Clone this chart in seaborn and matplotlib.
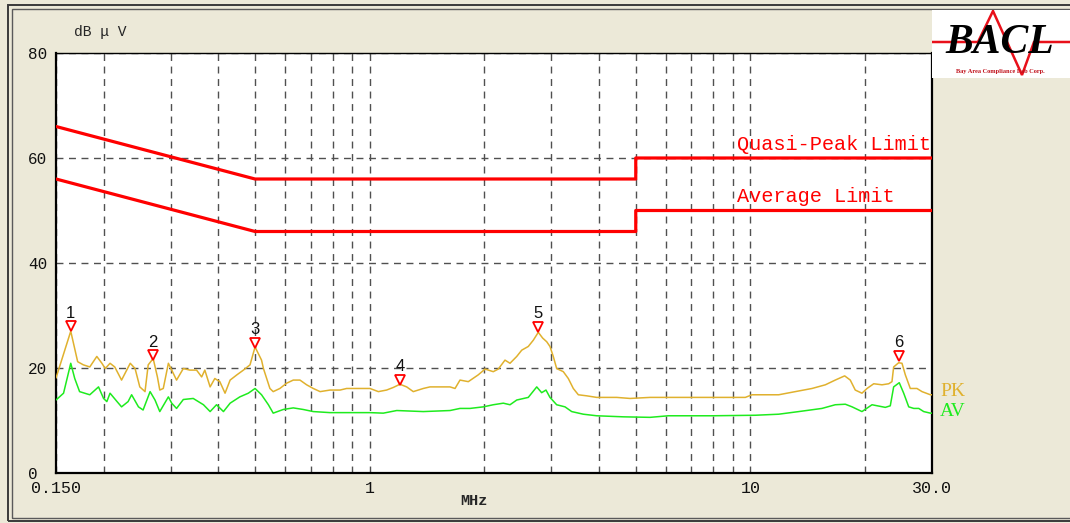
import numpy as np
import pandas as pd
import matplotlib
matplotlib.use("Agg")
import matplotlib.pyplot as plt
import matplotlib.transforms as mtransforms
from matplotlib.patches import Rectangle
from matplotlib.ticker import FixedLocator, NullFormatter
import seaborn as sns

# ---------------- data ----------------
pk_freq = [0.150, 0.164, 0.171, 0.177, 0.184, 0.192, 0.198, 0.202, 0.208, 0.214,
           0.223, 0.235, 0.242, 0.249, 0.257, 0.262, 0.270, 0.277, 0.281, 0.287,
           0.296, 0.302, 0.311, 0.324, 0.337, 0.351, 0.362, 0.369, 0.381, 0.392,
           0.404, 0.417, 0.430, 0.448, 0.466, 0.485, 0.500, 0.520, 0.526, 0.547,
           0.558, 0.581, 0.605, 0.630, 0.656, 0.683, 0.711, 0.741, 0.787, 0.836,
           0.870, 0.906, 0.962, 1.002, 1.054, 1.108, 1.154, 1.201, 1.251, 1.302,
           1.383, 1.440, 1.626, 1.676, 1.727, 1.816, 1.929, 2.010, 2.112, 2.177,
           2.267, 2.337, 2.434, 2.509, 2.610, 2.691, 2.773, 2.847, 2.918, 2.976,
           3.036, 3.099, 3.226, 3.325, 3.427, 3.533, 3.716, 3.948, 4.457, 4.829,
           5.451, 6.089, 7.929, 9.699, 10.10, 11.87, 13.12, 14.52, 15.74, 16.71,
           17.69, 18.30, 18.86, 19.64, 20.25, 21.09, 22.17, 23.09, 23.55, 23.79,
           24.52, 25.02, 25.53, 26.31, 27.39, 28.24, 29.71, 30.0]
pk_level = [18.1, 27.0, 21.2, 20.6, 20.2, 22.2, 20.9, 19.9, 20.9, 20.2,
            17.7, 20.9, 19.9, 16.4, 15.5, 20.6, 21.8, 18.3, 15.8, 16.1,
            20.9, 19.6, 17.7, 19.9, 19.6, 19.6, 18.3, 19.6, 16.4, 18.0,
            17.4, 15.2, 17.7, 18.7, 19.6, 20.6, 24.0, 21.5, 19.9, 16.1,
            15.5, 16.1, 17.1, 17.7, 17.7, 16.8, 16.1, 15.5, 15.8, 15.8,
            16.1, 16.1, 16.1, 16.1, 15.5, 15.8, 16.3, 16.9, 16.4, 15.5,
            16.1, 16.4, 16.4, 16.1, 17.7, 17.4, 18.7, 19.8, 19.3, 19.8,
            21.5, 20.9, 22.2, 23.4, 24.1, 25.3, 26.8, 25.7, 25.0, 24.1,
            22.2, 19.9, 19.3, 18.0, 16.1, 14.9, 14.7, 14.4, 14.4, 14.2,
            14.4, 14.4, 14.4, 14.4, 14.9, 14.9, 15.5, 16.1, 16.8, 17.7,
            18.5, 17.7, 15.8, 15.2, 16.1, 17.0, 16.8, 17.0, 17.4, 20.2,
            21.0, 20.9, 18.7, 16.1, 16.1, 15.5, 14.9, 14.9]

av_freq = [0.150, 0.157, 0.164, 0.168, 0.173, 0.184, 0.194, 0.200, 0.204, 0.208,
           0.217, 0.223, 0.232, 0.237, 0.247, 0.254, 0.265, 0.273, 0.281, 0.296,
           0.302, 0.311, 0.324, 0.344, 0.366, 0.381, 0.396, 0.413, 0.430, 0.456,
           0.480, 0.500, 0.520, 0.542, 0.558, 0.593, 0.630, 0.669, 0.711, 0.787,
           1.002, 1.086, 1.178, 1.383, 1.626, 1.727, 1.835, 1.989, 2.112, 2.244,
           2.337, 2.434, 2.610, 2.747, 2.830, 2.905, 2.976, 3.099, 3.259, 3.394,
           3.640, 3.948, 4.637, 5.451, 6.089, 7.929, 10.30, 11.87, 13.40, 15.42,
           16.71, 17.76, 18.50, 19.64, 20.87, 22.62, 23.31, 23.79, 24.61, 25.28,
           26.06, 26.87, 27.69, 28.53, 29.71, 30.0]
av_level = [13.9, 15.2, 20.9, 18.0, 15.5, 14.9, 16.4, 14.2, 13.6, 15.2,
            13.6, 12.6, 13.6, 14.9, 12.6, 12.0, 15.5, 13.9, 11.7, 14.5,
            13.3, 12.3, 14.0, 14.2, 13.0, 11.7, 13.0, 11.7, 13.3, 14.5,
            15.2, 16.1, 14.9, 13.0, 11.4, 12.1, 12.4, 12.1, 11.7, 11.5,
            11.5, 11.4, 11.9, 11.7, 11.9, 12.3, 12.3, 12.6, 13.0, 13.3,
            13.0, 13.9, 14.4, 16.4, 15.3, 15.8, 14.4, 13.0, 12.6, 11.7,
            11.2, 10.9, 10.7, 10.6, 10.9, 10.9, 11.0, 11.2, 11.7, 12.3,
            13.0, 13.1, 12.6, 11.7, 13.0, 12.5, 12.8, 16.4, 17.2, 15.2,
            12.6, 12.3, 12.3, 11.7, 11.4, 11.4]

qp_limit_freq = [0.15, 0.5, 5.0, 5.0, 30.0]
qp_limit_level = [66, 56, 56, 60, 60]
av_limit_freq = [0.15, 0.5, 5.0, 5.0, 30.0]
av_limit_level = [56, 46, 46, 50, 50]

marker_ids = ["1", "2", "3", "4", "5", "6"]
marker_freq = [0.164, 0.270, 0.500, 1.20, 2.77, 24.5]
marker_level = [27.0, 21.5, 23.9, 16.8, 26.9, 21.4]

y_ticks = [0, 20, 40, 60, 80]
y_tick_labels = ["0", "20", "40", "60", "80"]
x_tick_values = [0.15, 1, 10, 30]
x_tick_labels = ["0.150", "1", "10", "30.0"]
x_grid_values = [0.2, 0.3, 0.4, 0.5, 0.6, 0.7, 0.8, 0.9,
                 2, 3, 4, 5, 6, 7, 8, 9, 20]

# ---------------- style ----------------
W, H = 1070, 523
BG = '#ECE9D8'
PK_COLOR = '#E0B12E'
AV_COLOR = '#1EEB1E'
LIM_COLOR = '#FF0000'

sns.set_style("white")
plt.rcParams['font.family'] = ['DejaVu Sans']

fig = plt.figure(figsize=(W / 100, H / 100), dpi=100, facecolor=BG)


def fx(px):
    return px / W


def fy(py):
    return 1 - py / H


# window border (double line)
fig.add_artist(Rectangle((fx(8), fy(521)), fx(1200 - 8), fy(5) - fy(521),
                         transform=fig.transFigure, fill=False,
                         edgecolor='#3a3a3a', lw=1.4, zorder=0))
fig.add_artist(Rectangle((fx(12), fy(518)), fx(1200 - 12), fy(9) - fy(518),
                         transform=fig.transFigure, fill=False,
                         edgecolor='#5a5a5a', lw=1.0, zorder=0))

ax = fig.add_axes([fx(56), fy(473), fx(932 - 56), fy(53) - fy(473)])
ax.set_facecolor('white')
ax.set_xscale('log')

df_pk = pd.DataFrame({'freq': pk_freq, 'level': pk_level})
df_av = pd.DataFrame({'freq': av_freq, 'level': av_level})
df_qp = pd.DataFrame({'freq': qp_limit_freq, 'level': qp_limit_level})
df_avl = pd.DataFrame({'freq': av_limit_freq, 'level': av_limit_level})

sns.lineplot(data=df_qp, x='freq', y='level', ax=ax, color=LIM_COLOR, lw=2.3,
             estimator=None, sort=False, zorder=4)
sns.lineplot(data=df_avl, x='freq', y='level', ax=ax, color=LIM_COLOR, lw=2.3,
             estimator=None, sort=False, zorder=4)
sns.lineplot(data=df_pk, x='freq', y='level', ax=ax, color=PK_COLOR, lw=1.1,
             estimator=None, sort=False, zorder=3)
sns.lineplot(data=df_av, x='freq', y='level', ax=ax, color=AV_COLOR, lw=1.1,
             estimator=None, sort=False, zorder=3)

ax.set_xlim(0.15, 30)
ax.set_ylim(0, 80)

# ticks / grid
ax.xaxis.set_major_locator(FixedLocator(x_tick_values))
ax.xaxis.set_minor_locator(FixedLocator(x_grid_values))
ax.xaxis.set_minor_formatter(NullFormatter())
ax.set_xticklabels(x_tick_labels)
ax.set_yticks(y_ticks)
ax.set_yticklabels(y_tick_labels)
ax.grid(True, which='both', axis='x', color='#505050', lw=1.0,
        linestyle=(0, (5, 4)))
ax.grid(True, which='major', axis='y', color='#505050', lw=1.0,
        linestyle=(0, (5, 4)))
ax.set_axisbelow(True)
ax.tick_params(axis='both', which='both', length=0)
ax.tick_params(axis='y', pad=20.2)
ax.tick_params(axis='x', pad=6)
for lab in ax.get_yticklabels():
    lab.set_horizontalalignment('left')
    lab.set_family('Liberation Mono')
    lab.set_fontsize(11.5)
    lab.set_color('#111111')
for lab in ax.get_xticklabels():
    lab.set_family('Liberation Mono')
    lab.set_fontsize(12)
    lab.set_color('#111111')

for side in ['left', 'bottom', 'top', 'right']:
    ax.spines[side].set_visible(True)
    ax.spines[side].set_color('black')
ax.spines['left'].set_linewidth(1.6)
ax.spines['bottom'].set_linewidth(1.6)
ax.spines['top'].set_linewidth(1.0)
ax.spines['right'].set_linewidth(1.6)

ax.set_xlabel('MHz', fontsize=11, family='Liberation Mono', fontweight='bold')
ax.xaxis.set_label_coords((474 - 56) / 876, -(501 - 473) / 420)
ax.xaxis.label.set_verticalalignment('center')
ax.set_ylabel('')
ax.text((100 - 56) / 876, (473 - 32) / 420, 'dB μ V', transform=ax.transAxes,
        ha='center', va='center', fontsize=10.5, family='Liberation Mono',
        clip_on=False)

# limit texts
ax.text(9.2, 62.6, 'Quasi-Peak Limit', color=LIM_COLOR, fontsize=14.6,
        family='Liberation Mono', ha='left', va='center', clip_on=True)
ax.text(9.2, 52.6, 'Average Limit', color=LIM_COLOR, fontsize=14.6,
        family='Liberation Mono', ha='left', va='center', clip_on=True)

# markers
marker_tr = mtransforms.offset_copy(ax.transData, fig=fig, x=0, y=3.6,
                                    units='points')
ax.plot(marker_freq, marker_level, linestyle='none', marker='v', ms=7.2,
        mfc='white', mec='red', mew=1.3, transform=marker_tr, zorder=6,
        clip_on=False)
for lab, f, lv in zip(marker_ids, marker_freq, marker_level):
    ax.annotate(lab, (f, lv), xytext=(0, 13), textcoords='offset points',
                ha='center', va='center', fontsize=12,
                family='Liberation Sans', color='#111111', zorder=7)

# PK / AV legend
ax.text(1 + (940 - 932) / 876, (473 - 392) / 420, 'PK', transform=ax.transAxes,
        color=PK_COLOR, fontsize=14, family='Liberation Serif', ha='left',
        va='center', clip_on=False)
ax.text(1 + (940 - 932) / 876, (473 - 411) / 420, 'AV', transform=ax.transAxes,
        color=AV_COLOR, fontsize=14, family='Liberation Serif', ha='left',
        va='center', clip_on=False)

# logo
lax = fig.add_axes([fx(932), fy(78), fx(1070 - 932), fy(10) - fy(78)])
lax.set_facecolor('white')
lax.set_xlim(0, 138)
lax.set_ylim(68, 0)
lax.set_xticks([])
lax.set_yticks([])
for s in lax.spines.values():
    s.set_visible(False)
lax.plot([0, 46, 61, 90, 102, 138], [32, 32, 1, 65, 32, 32], color='#E8101A',
         lw=1.8, solid_joinstyle='miter')
lax.text(68, 33, 'BACL', ha='center', va='center', fontsize=30,
         family='Liberation Serif', fontweight='bold', style='italic',
         color='black')
lax.text(68, 61, 'Bay Area Compliance Lab Corp.', ha='center', va='center',
         fontsize=4.6, family='Liberation Serif', fontweight='bold',
         color='#C0101A')

fig.savefig('out.png', dpi=100, facecolor=BG)
